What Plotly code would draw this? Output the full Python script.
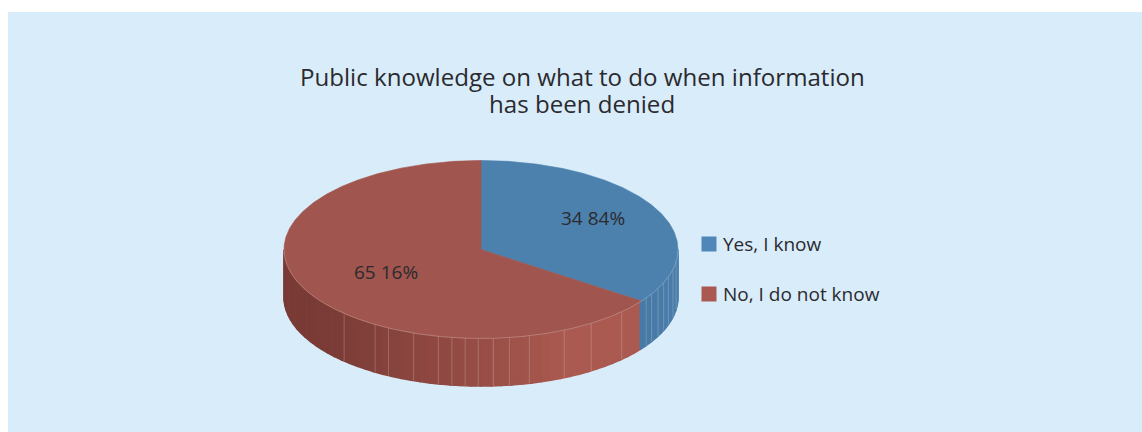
import math
import plotly.graph_objects as go

categories = ["Yes, I know", "No, I do not know"]
shares = [34.84, 65.16]
value_labels = ["34 84%", "65 16%"]
title_lines = ["Public knowledge on what to do when information", "has been denied"]

# styling
TOP_COLORS = ["#4c81ae", "#a0554e"]
LEGEND_COLORS = ["#4f87b8", "#ab5850"]
INK = "#2b2a2e"
PANEL = "#d9ecfa"
FONT = "Open Sans"
CX, CY, RX, RY, DEPTH = 481, 249.5, 197, 89, 47.5
FACETS = [-44, -32.5, -28, -20, -12.5, -8.5, -4.6, -0.8, 3.6, 8.3, 14.2, 25, 34, 45.6,
          57, 60, 64, 68, 72, 77, 82]  # degrees from the front of the disc


def pt(deg, drop=0.0):
    """deg is clockwise from the top of the ellipse."""
    a = math.radians(deg)
    return CX + RX * math.sin(a), CY - RY * math.cos(a) + drop


def arc(a0, a1, drop=0.0, step=1.0):
    n = max(2, int(abs(a1 - a0) / step) + 1)
    pts = [pt(a0 + (a1 - a0) * i / (n - 1), drop) for i in range(n)]
    return [p[0] for p in pts], [p[1] for p in pts]


def mix(c0, c1, t):
    return "rgb(%d,%d,%d)" % tuple(round(a + (b - a) * t) for a, b in zip(c0, c1))


def shade(t):
    stops = [(0.0, 0.0), (0.3, 0.04), (0.62, 0.6), (0.8, 1.0), (1.0, 1.0)]
    for (t0, v0), (t1, v1) in zip(stops, stops[1:]):
        if t <= t1:
            return v0 + (v1 - v0) * (t - t0) / (t1 - t0)
    return 1.0


angles = [0]
for s in shares:
    angles.append(angles[-1] + s * 3.6)

fig = go.Figure()


def poly(xs, ys, color, width=0.6):
    fig.add_trace(go.Scatter(x=xs, y=ys, mode="lines", fill="toself", fillcolor=color,
                             line=dict(color=color, width=width), hoverinfo="skip", showlegend=False))


# side wall: only the near half of the disc (90..270 degrees) is visible
STEP = 3.0
a = 270.0
while a > 90.0:
    b = max(a - STEP, 90.0)
    mid = (a + b) / 2
    if mid < angles[1]:
        col = mix((0x4a, 0x7e, 0xab), (0x48, 0x7a, 0xa6), (mid - 90) / 35)
    else:
        t = (270 - mid) / (270 - angles[1])
        col = mix((0x79, 0x3a, 0x35), (0xaa, 0x5a, 0x50), shade(t))
    xt, yt = arc(a, b, 0, 0.5)
    xb, yb = arc(b, a, DEPTH, 0.5)
    poly(xt + xb + xt[:1], yt + yb + yt[:1], col, 1.6)
    a = b

# facet seams on the wall
fx, fy = [], []
for f in FACETS:
    deg = 180 - f
    for d in (0, DEPTH):
        x, y = pt(deg, d)
        fx.append(x)
        fy.append(y)
    fx.append(None)
    fy.append(None)
fig.add_trace(go.Scatter(x=fx, y=fy, mode="lines", line=dict(color="rgba(255,255,255,0.2)", width=1),
                         hoverinfo="skip", showlegend=False))

# top face
for i, c in enumerate(TOP_COLORS):
    xs, ys = arc(angles[i], angles[i + 1], 0, 0.5)
    poly([CX] + xs + [CX], [CY] + ys + [CY], c)

# thin light rim on the front of the top face
xs, ys = arc(90, 270, 0, 0.5)
fig.add_trace(go.Scatter(x=xs, y=ys, mode="lines", line=dict(color="rgba(255,255,255,0.3)", width=0.8),
                         hoverinfo="skip", showlegend=False))

# legend swatches
legend_y = [244, 294]
fig.add_trace(go.Scatter(x=[709, 709], y=legend_y, mode="markers",
                         marker=dict(symbol="square", size=15, color=LEGEND_COLORS),
                         hoverinfo="skip", showlegend=False))

annotations = []
for line, y in zip(title_lines, [76, 103]):
    annotations.append(dict(x=582, y=y, text=line, showarrow=False, xanchor="center", yanchor="middle",
                            font=dict(family=FONT, size=24.1, color=INK)))
label_frac = [0.642, 0.54]
label_yshift = [5, 0]
for i, lab in enumerate(value_labels):
    mid = (angles[i] + angles[i + 1]) / 2
    r = math.radians(mid)
    f = label_frac[i]
    annotations.append(dict(x=CX + RX * f * math.sin(r), y=CY - RY * f * math.cos(r), text=lab,
                            showarrow=False, yshift=label_yshift[i], xanchor="center", yanchor="middle",
                            font=dict(family=FONT, size=19, color=INK)))
for c, y in zip(categories, legend_y):
    annotations.append(dict(x=721, y=y, text=c, showarrow=False, xanchor="left", yanchor="middle",
                            font=dict(family=FONT, size=19, color=INK)))

fig.update_layout(
    width=1142, height=432, margin=dict(l=0, r=0, t=0, b=0),
    paper_bgcolor="white", plot_bgcolor="white",
    xaxis=dict(range=[0, 1142], visible=False, fixedrange=True),
    yaxis=dict(range=[432, 0], visible=False, fixedrange=True),
    shapes=[dict(type="rect", xref="x", yref="y", x0=8, y0=12, x1=1142, y1=432,
                 fillcolor=PANEL, line_width=0, layer="below")],
    annotations=annotations,
)
fig.write_html("out.html", config={"displayModeBar": False},
               post_script="document.body.style.margin='0';document.body.style.overflow='hidden';")
